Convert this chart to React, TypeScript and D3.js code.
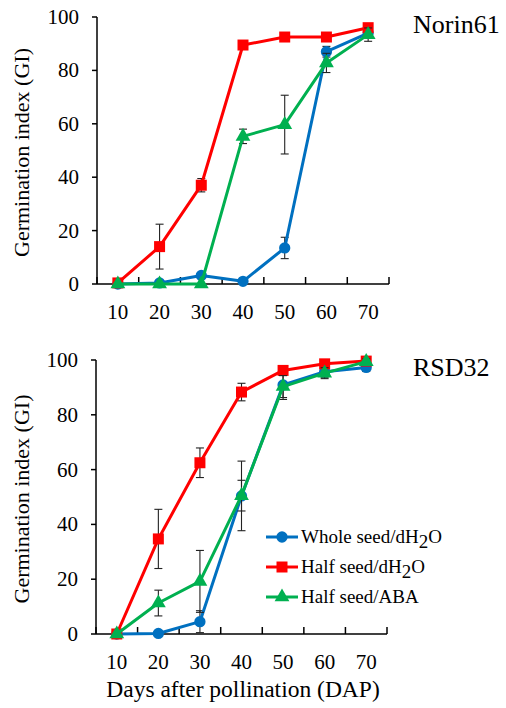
import React from "react";
import * as d3 from "d3";

const days = ["10", "20", "30", "40", "50", "60", "70"];
const yTicks = [0, 20, 40, 60, 80, 100];

// Norin61
const norinWhole = [0, 0.4, 3.2, 1, 13.5, 87, 94];
const norinWholeErr = [0, 0.4, 1, 0.5, 4, 2, 2];
const norinHalf = [0.4, 14, 37, 89.5, 92.5, 92.5, 96];
const norinHalfErr = [0, 8.4, 2.5, 1, 1, 1, 1.5];
const norinAba = [0, 0, 0, 55.3, 59.7, 82.8, 93.4];
const norinAbaErr = [0, 0, 0, 2.7, 11, 3.6, 2.5];

// RSD32
const rsdWhole = [0, 0.2, 4.5, 50.4, 90.9, 95.7, 97.3];
const rsdWholeErr = [0, 0.3, 4, 12.7, 5.3, 2, 1.5];
const rsdHalf = [0, 34.7, 62.5, 88.3, 96.2, 98.6, 99.6];
const rsdHalfErr = [0, 10.8, 5.4, 3.2, 1.5, 1, 0.5];
const rsdAba = [0, 11.3, 19.2, 50.5, 90.3, 95.2, 99.4];
const rsdAbaErr = [0, 4.7, 11.3, 5.6, 4, 2, 1];

const BLUE = "#0070C0";
const RED = "#FF0000";
const GREEN = "#00B050";

const circle = d3.symbol(d3.symbolCircle, 100)();
const square = d3.symbol(d3.symbolSquare, 121)();
const triangle = d3.symbol(d3.symbolTriangle, 95)();

type Series = { vals: number[]; err: number[]; color: string; marker: string };

function Panel(props: {
  top: number;
  bottom: number;
  left: number;
  right: number;
  title: string;
  series: Series[];
}) {
  const { top, bottom, left, right, title, series } = props;
  const x = d3.scaleBand().domain(days).range([left, right]);
  const y = d3.scaleLinear().domain([0, 100]).range([bottom, top]);
  const cx = (d: string) => (x(d) as number) + x.bandwidth() / 2;
  const line = d3
    .line<number>()
    .x((_, i) => cx(days[i]))
    .y((v) => y(v));
  const bounds = days.map((d) => x(d) as number).concat([right]);

  return (
    <g>
      {/* axes */}
      <line x1={left} x2={left} y1={top} y2={bottom} stroke="#000" strokeWidth={1.5} />
      <line x1={left} x2={right} y1={bottom} y2={bottom} stroke="#000" strokeWidth={1.5} />
      {yTicks.map((t) => (
        <g key={t}>
          <line x1={left - 5} x2={left} y1={y(t)} y2={y(t)} stroke="#000" strokeWidth={1.5} />
          <text x={left - 18} y={y(t)} textAnchor="end" dominantBaseline="central" fontSize={21}>
            {t}
          </text>
        </g>
      ))}
      {bounds.map((b, i) => (
        <line key={i} x1={b} x2={b} y1={bottom} y2={bottom - 7} stroke="#000" strokeWidth={1.5} />
      ))}
      {days.map((d) => (
        <text key={d} x={cx(d)} y={bottom + 28} textAnchor="middle" dominantBaseline="central" fontSize={21}>
          {d}
        </text>
      ))}
      <text
        transform={`translate(21,${(top + bottom) / 2 + 2}) rotate(-90)`}
        textAnchor="middle"
        dominantBaseline="central"
        fontSize={22}
      >
        Germination index (GI)
      </text>
      <text x={413} y={top + 16} fontSize={26}>
        {title}
      </text>

      {series.map((s, si) => (
        <g key={si}>
          {s.vals.map((v, i) =>
            s.err[i] > 0.5 ? (
              <g key={i} stroke="#222" strokeWidth={1.1}>
                <line x1={cx(days[i])} x2={cx(days[i])} y1={y(v - s.err[i])} y2={y(v + s.err[i])} />
                <line x1={cx(days[i]) - 4} x2={cx(days[i]) + 4} y1={y(v - s.err[i])} y2={y(v - s.err[i])} />
                <line x1={cx(days[i]) - 4} x2={cx(days[i]) + 4} y1={y(v + s.err[i])} y2={y(v + s.err[i])} />
              </g>
            ) : null
          )}
          <path d={line(s.vals) || ""} fill="none" stroke={s.color} strokeWidth={3} strokeLinejoin="round" />
          {s.vals.map((v, i) => (
            <path key={i} d={s.marker} transform={`translate(${cx(days[i])},${y(v)})`} fill={s.color} />
          ))}
        </g>
      ))}
    </g>
  );
}

const legendItems = [
  { color: BLUE, marker: circle, label: "Whole seed/dH", sub: true },
  { color: RED, marker: square, label: "Half seed/dH", sub: true },
  { color: GREEN, marker: triangle, label: "Half seed/ABA", sub: false },
];

export default function App() {
  return (
    <svg
      width={506}
      height={708}
      style={{ position: "absolute", left: 0, top: 0, background: "#fff", fontFamily: "Liberation Serif, serif" }}
    >
      <Panel
        top={17}
        bottom={284}
        left={97}
        right={389}
        title="Norin61"
        series={[
          { vals: norinWhole, err: norinWholeErr, color: BLUE, marker: circle },
          { vals: norinHalf, err: norinHalfErr, color: RED, marker: square },
          { vals: norinAba, err: norinAbaErr, color: GREEN, marker: triangle },
        ]}
      />
      <Panel
        top={360}
        bottom={634}
        left={96}
        right={387}
        title="RSD32"
        series={[
          { vals: rsdWhole, err: rsdWholeErr, color: BLUE, marker: circle },
          { vals: rsdHalf, err: rsdHalfErr, color: RED, marker: square },
          { vals: rsdAba, err: rsdAbaErr, color: GREEN, marker: triangle },
        ]}
      />
      <text x={243} y={697} textAnchor="middle" fontSize={23.5}>
        Days after pollination (DAP)
      </text>
      {legendItems.map((it, i) => {
        const ly = 537 + i * 30;
        return (
          <g key={i}>
            <line x1={266} x2={298} y1={ly} y2={ly} stroke={it.color} strokeWidth={3} />
            <path d={it.marker} transform={`translate(282,${ly})`} fill={it.color} />
            <text x={301} y={ly + 6} fontSize={19}>
              {it.label}
              {it.sub ? (
                <>
                  <tspan dy={5}>2</tspan>
                  <tspan dy={-5}>O</tspan>
                </>
              ) : null}
            </text>
          </g>
        );
      })}
    </svg>
  );
}
